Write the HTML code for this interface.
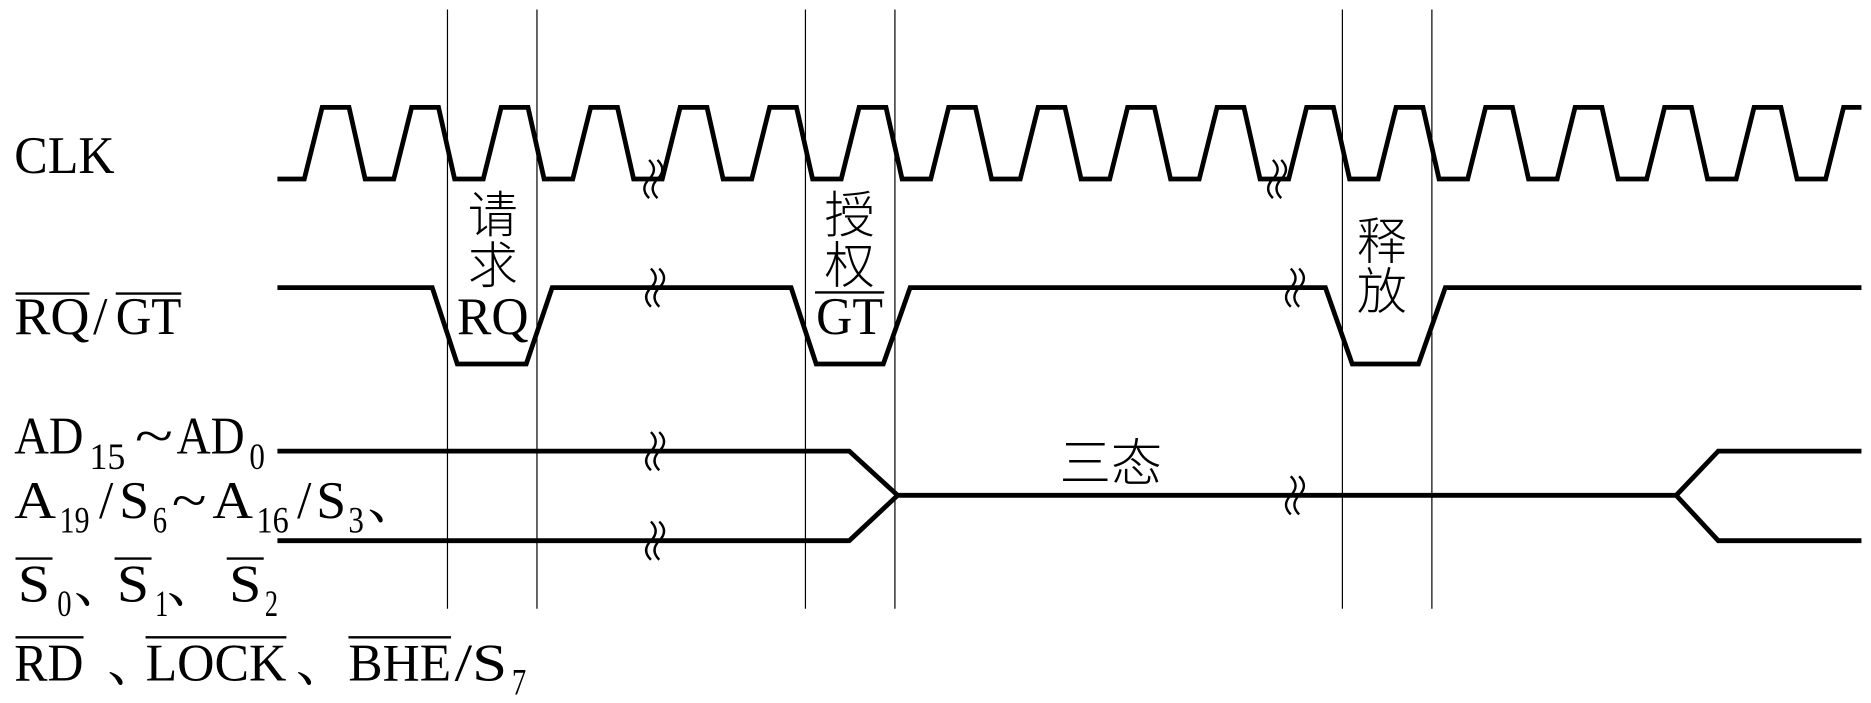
<!DOCTYPE html>
<html><head><meta charset="utf-8"><style>
html,body{margin:0;padding:0;background:#fff;}
svg{display:block;}
text{font-family:"Liberation Serif","Noto Serif CJK SC",serif;fill:#000;}
.cjk{font-family:"Noto Sans CJK SC","WenQuanYi Zen Hei",sans-serif;font-weight:300;}
.m{font-size:44px;}
.s{font-size:31px;}
</style></head><body>
<svg id="chart" width="1871" height="703" viewBox="0 0 1568 589" preserveAspectRatio="none" xmlns="http://www.w3.org/2000/svg">
<g id="labels" stroke-width="2">
 <text class="m" x="12" y="145" textLength="84" lengthAdjust="spacingAndGlyphs">CLK</text>
 <g>
  <text class="m" x="12" y="280" textLength="63" lengthAdjust="spacingAndGlyphs">RQ</text>
  <text class="m" x="78" y="280" textLength="12" lengthAdjust="spacingAndGlyphs">/</text>
  <text class="m" x="97" y="280" textLength="55" lengthAdjust="spacingAndGlyphs">GT</text>
  <line x1="13" y1="246" x2="75" y2="246" stroke="#000"/>
  <line x1="97" y1="246" x2="152" y2="246" stroke="#000"/>
 </g>
 <g>
  <text class="m" x="12" y="380" textLength="58" lengthAdjust="spacingAndGlyphs">AD</text>
  <text class="s" x="75" y="393" textLength="30" lengthAdjust="spacingAndGlyphs">15</text>
  <text class="m" x="113" y="380" textLength="32" lengthAdjust="spacingAndGlyphs">~</text>
  <text class="m" x="148" y="380" textLength="57" lengthAdjust="spacingAndGlyphs">AD</text>
  <text class="s" x="209" y="393" textLength="13" lengthAdjust="spacingAndGlyphs">0</text>
 </g>
 <g>
  <text class="m" x="12" y="434" textLength="35" lengthAdjust="spacingAndGlyphs">A</text>
  <text class="s" x="50" y="446" textLength="25" lengthAdjust="spacingAndGlyphs">19</text>
  <text class="m" x="83" y="434" textLength="12" lengthAdjust="spacingAndGlyphs">/</text>
  <text class="m" x="100" y="434" textLength="25" lengthAdjust="spacingAndGlyphs">S</text>
  <text class="s" x="128" y="446" textLength="12" lengthAdjust="spacingAndGlyphs">6</text>
  <text class="m" x="144" y="434" textLength="29" lengthAdjust="spacingAndGlyphs">~</text>
  <text class="m" x="178" y="434" textLength="34" lengthAdjust="spacingAndGlyphs">A</text>
  <text class="s" x="215" y="446" textLength="27" lengthAdjust="spacingAndGlyphs">16</text>
  <text class="m" x="249" y="434" textLength="12" lengthAdjust="spacingAndGlyphs">/</text>
  <text class="m" x="265" y="434" textLength="25" lengthAdjust="spacingAndGlyphs">S</text>
  <text class="s" x="292" y="446" textLength="13" lengthAdjust="spacingAndGlyphs">3</text>
  <text class="m" x="308" y="434">、</text>
 </g>
 <g>
  <text class="m" x="15" y="504" textLength="27" lengthAdjust="spacingAndGlyphs">S</text>
  <text class="s" x="48" y="516" textLength="12" lengthAdjust="spacingAndGlyphs">0</text>
  <text class="m" x="62" y="504">、</text>
  <text class="m" x="98" y="504" textLength="27" lengthAdjust="spacingAndGlyphs">S</text>
  <text class="s" x="130" y="516" textLength="11" lengthAdjust="spacingAndGlyphs">1</text>
  <text class="m" x="140" y="504">、</text>
  <text class="m" x="192" y="504" textLength="27" lengthAdjust="spacingAndGlyphs">S</text>
  <text class="s" x="222" y="516" textLength="11" lengthAdjust="spacingAndGlyphs">2</text>
  <line x1="13" y1="468" x2="44" y2="468" stroke="#000"/>
  <line x1="96" y1="468" x2="127" y2="468" stroke="#000"/>
  <line x1="190" y1="468" x2="221" y2="468" stroke="#000"/>
 </g>
 <g>
  <text class="m" x="12" y="570" textLength="58" lengthAdjust="spacingAndGlyphs">RD</text>
  <text class="m" x="90" y="570">、</text>
  <text class="m" x="122" y="570" textLength="118" lengthAdjust="spacingAndGlyphs">LOCK</text>
  <text class="m" x="248" y="570">、</text>
  <text class="m" x="292" y="570" textLength="86" lengthAdjust="spacingAndGlyphs">BHE</text>
  <text class="m" x="381" y="570" textLength="44" lengthAdjust="spacingAndGlyphs">/S</text>
  <text class="s" x="429" y="582" textLength="12" lengthAdjust="spacingAndGlyphs">7</text>
  <line x1="13" y1="534" x2="70" y2="534" stroke="#000"/>
  <line x1="122" y1="534" x2="240" y2="534" stroke="#000"/>
  <line x1="292" y1="534" x2="378" y2="534" stroke="#000"/>
 </g>
</g>
<g>
 <text class="cjk" x="413" y="195" font-size="42" text-anchor="middle">请</text>
 <text class="cjk" x="413" y="237" font-size="42" text-anchor="middle">求</text>
 <text class="m" x="383" y="280" textLength="60" lengthAdjust="spacingAndGlyphs">RQ</text>
 <text class="cjk" x="712" y="195" font-size="42" text-anchor="middle">授</text>
 <text class="cjk" x="712" y="237" font-size="42" text-anchor="middle">权</text>
 <line x1="683" y1="245" x2="741" y2="245" stroke="#000" stroke-width="2"/>
 <text class="m" x="684" y="280" textLength="56" lengthAdjust="spacingAndGlyphs">GT</text>
 <text class="cjk" x="1158" y="217" font-size="42" text-anchor="middle">释</text>
 <text class="cjk" x="1158" y="259" font-size="42" text-anchor="middle">放</text>
 <text class="cjk" x="931" y="403" font-size="43" text-anchor="middle">三态</text>
</g>
<g id="marks"></g>
</svg>
<script>
// time axis in clock periods
const clkCycles = 18;
const clkShape = [0.2, 0.5, 0.68];   // rise end, top end, fall end (fraction of period)
const markers = [1.6, 2.6, 5.6, 6.6, 11.6, 12.6];
const rqPulses = [[1.43,1.71,2.48,2.77],[5.44,5.72,6.47,6.77],[11.41,11.71,12.45,12.75]];
const busFloat = [6.09, 6.63];   // start converging, merged
const busDrive = [15.33, 15.8];  // start diverging, separated
const clkBreaks = [3.88, 10.85];
const sigBreaks = [3.9, 11.0];
const tStart = -0.3, tEnd = 17.4;

const X = t => 255 + 75 * t;
const Y = {clkHi:90, clkLo:150, rqHi:241, rqLo:305, busHi:378, busMid:415, busLo:453};
const NS = 'http://www.w3.org/2000/svg';
const g = document.getElementById('marks');
function path(d, w, name){
  const p = document.createElementNS(NS,'path');
  p.setAttribute('d', d); p.setAttribute('fill','none'); p.setAttribute('stroke','#000');
  p.setAttribute('stroke-width', w); p.setAttribute('stroke-linejoin','miter');
  
  
  g.appendChild(p); return p;
}
markers.forEach((t,i)=>{
  const p = path(`M${X(t)},8 L${X(t)},510`, 1, 'phase-marker');
  
});
// clock
let d = `M${X(tStart)},${Y.clkLo} L${X(0)},${Y.clkLo}`;
for (let k=0;k<clkCycles;k++){
  d += ` L${X(k+clkShape[0])},${Y.clkHi} L${X(Math.min(k+clkShape[1],tEnd))},${Y.clkHi}`;
  if (k+clkShape[1] >= tEnd) break;
  d += ` L${X(k+clkShape[2])},${Y.clkLo} L${X(k+1)},${Y.clkLo}`;
}
path(d, 4, 'clk-waveform');
// RQ/GT
d = `M${X(tStart)},${Y.rqHi}`;
rqPulses.forEach(p=>{
  d += ` L${X(p[0])},${Y.rqHi} L${X(p[1])},${Y.rqLo} L${X(p[2])},${Y.rqLo} L${X(p[3])},${Y.rqHi}`;
});
d += ` L${X(tEnd)},${Y.rqHi}`;
path(d, 4, 'rq-gt-waveform');
// bus
path(`M${X(tStart)},${Y.busHi} L${X(busFloat[0])},${Y.busHi} L${X(busFloat[1])},${Y.busMid} L${X(busDrive[0])},${Y.busMid} L${X(busDrive[1])},${Y.busHi} L${X(tEnd)},${Y.busHi}`, 4, 'bus-waveform-upper');
path(`M${X(tStart)},${Y.busLo} L${X(busFloat[0])},${Y.busLo} L${X(busFloat[1])},${Y.busMid} M${X(busDrive[0])},${Y.busMid} L${X(busDrive[1])},${Y.busLo} L${X(tEnd)},${Y.busLo}`, 4, 'bus-waveform-lower');
// break marks
function brk(t, y, name){
  const x = X(t);
  const p = path(`M${x-2},${y-16} q8,8 0,16 q-8,8 0,16 M${x+5},${y-16} q8,8 0,16 q-8,8 0,16`, 2, name);
  p.setAttribute('transform', `translate(0,-16)`);
}
clkBreaks.forEach(t=>brk(t, Y.clkLo+16, 'clk-break-mark'));
brk(sigBreaks[0], Y.rqHi+16, 'rq-break-mark');
brk(sigBreaks[1]+0.05, Y.rqHi+16, 'rq-break-mark');
brk(sigBreaks[0], Y.busHi+16, 'bus-break-mark');
brk(sigBreaks[0], Y.busLo+16, 'bus-break-mark');
brk(sigBreaks[1]+0.05, Y.busMid+16, 'bus-break-mark');
</script>
</body></html>
